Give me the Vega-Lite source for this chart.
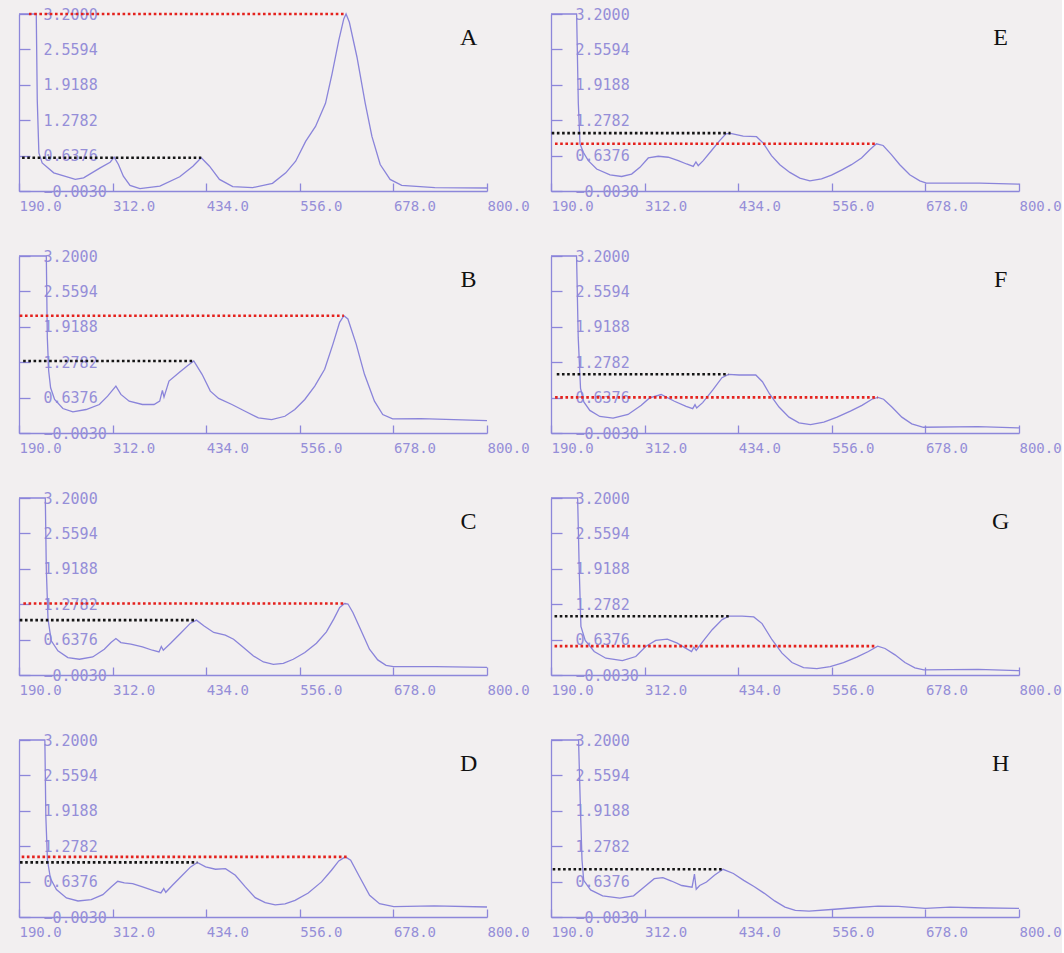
{
  "$schema": "https://vega.github.io/schema/vega-lite/v6.json",
  "background": "#f2eff0",
  "padding": {"left": 16, "top": 6, "right": 0, "bottom": 16},
  "bounds": "flush",
  "columns": 2,
  "spacing": {"row": 65, "column": 64},
  "data": {"values": [
    {"p":"A","k":"s","x":190,"y":3.2},{"p":"A","k":"s","x":212.5,"y":3.2},{"p":"A","k":"s","x":213.8,"y":1.643},{"p":"A","k":"s","x":215.9,"y":0.686},{"p":"A","k":"s","x":220.2,"y":0.506},{"p":"A","k":"s","x":235.3,"y":0.326},{"p":"A","k":"s","x":263.4,"y":0.207},{"p":"A","k":"s","x":274.2,"y":0.236},{"p":"A","k":"s","x":295.8,"y":0.416},{"p":"A","k":"s","x":308.8,"y":0.518},{"p":"A","k":"s","x":314.0,"y":0.61},{"p":"A","k":"s","x":319.6,"y":0.476},{"p":"A","k":"s","x":326.0,"y":0.266},{"p":"A","k":"s","x":334.7,"y":0.099},{"p":"A","k":"s","x":347.6,"y":0.039},{"p":"A","k":"s","x":373.6,"y":0.087},{"p":"A","k":"s","x":399.5,"y":0.254},{"p":"A","k":"s","x":416.7,"y":0.446},{"p":"A","k":"s","x":427.5,"y":0.6},{"p":"A","k":"s","x":438.3,"y":0.446},{"p":"A","k":"s","x":451.3,"y":0.207},{"p":"A","k":"s","x":468.6,"y":0.075},{"p":"A","k":"s","x":494.5,"y":0.057},{"p":"A","k":"s","x":520.4,"y":0.135},{"p":"A","k":"s","x":537.7,"y":0.326},{"p":"A","k":"s","x":550.6,"y":0.536},{"p":"A","k":"s","x":563.6,"y":0.895},{"p":"A","k":"s","x":576.5,"y":1.165},{"p":"A","k":"s","x":589.5,"y":1.584},{"p":"A","k":"s","x":598.1,"y":2.122},{"p":"A","k":"s","x":606.8,"y":2.721},{"p":"A","k":"s","x":613.3,"y":3.11},{"p":"A","k":"s","x":616.3,"y":3.2},{"p":"A","k":"s","x":620.6,"y":3.05},{"p":"A","k":"s","x":630.5,"y":2.422},{"p":"A","k":"s","x":641.3,"y":1.584},{"p":"A","k":"s","x":650.0,"y":0.985},{"p":"A","k":"s","x":660.8,"y":0.476},{"p":"A","k":"s","x":673.7,"y":0.207},{"p":"A","k":"s","x":688.8,"y":0.099},{"p":"A","k":"s","x":732.0,"y":0.057},{"p":"A","k":"s","x":800,"y":0.051},
    {"p":"A","k":"r","c":"red","x":203,"x2":616.3,"y":3.2},{"p":"A","k":"r","c":"black","x":194,"x2":427.5,"y":0.6},{"p":"A","k":"t"},

    {"p":"B","k":"s","x":190,"y":3.2},{"p":"B","k":"s","x":225.6,"y":3.2},{"p":"B","k":"s","x":226.9,"y":1.726},{"p":"B","k":"s","x":228.7,"y":1.119},{"p":"B","k":"s","x":231.2,"y":0.816},{"p":"B","k":"s","x":236.4,"y":0.604},{"p":"B","k":"s","x":247.2,"y":0.44},{"p":"B","k":"s","x":260.2,"y":0.379},{"p":"B","k":"s","x":277.5,"y":0.422},{"p":"B","k":"s","x":294.7,"y":0.513},{"p":"B","k":"s","x":305.5,"y":0.664},{"p":"B","k":"s","x":316.3,"y":0.846},{"p":"B","k":"s","x":322.8,"y":0.695},{"p":"B","k":"s","x":333.6,"y":0.573},{"p":"B","k":"s","x":350.9,"y":0.513},{"p":"B","k":"s","x":366.0,"y":0.513},{"p":"B","k":"s","x":373.4,"y":0.573},{"p":"B","k":"s","x":376.9,"y":0.767},{"p":"B","k":"s","x":379.0,"y":0.646},{"p":"B","k":"s","x":385.5,"y":0.937},{"p":"B","k":"s","x":398.4,"y":1.089},{"p":"B","k":"s","x":409.2,"y":1.21},{"p":"B","k":"s","x":417.8,"y":1.301},{"p":"B","k":"s","x":428.6,"y":1.059},{"p":"B","k":"s","x":439.4,"y":0.755},{"p":"B","k":"s","x":450.2,"y":0.622},{"p":"B","k":"s","x":467.5,"y":0.513},{"p":"B","k":"s","x":484.7,"y":0.391},{"p":"B","k":"s","x":502.0,"y":0.27},{"p":"B","k":"s","x":519.3,"y":0.24},{"p":"B","k":"s","x":536.6,"y":0.3},{"p":"B","k":"s","x":549.5,"y":0.422},{"p":"B","k":"s","x":562.5,"y":0.604},{"p":"B","k":"s","x":575.5,"y":0.846},{"p":"B","k":"s","x":588.4,"y":1.15},{"p":"B","k":"s","x":599.2,"y":1.605},{"p":"B","k":"s","x":607.9,"y":1.999},{"p":"B","k":"s","x":613.5,"y":2.12},{"p":"B","k":"s","x":618.7,"y":2.06},{"p":"B","k":"s","x":629.5,"y":1.605},{"p":"B","k":"s","x":640.3,"y":1.059},{"p":"B","k":"s","x":653.3,"y":0.573},{"p":"B","k":"s","x":664.1,"y":0.331},{"p":"B","k":"s","x":677.0,"y":0.252},{"p":"B","k":"s","x":713.7,"y":0.258},{"p":"B","k":"s","x":756.9,"y":0.24},{"p":"B","k":"s","x":800,"y":0.222},
    {"p":"B","k":"r","c":"red","x":191,"x2":613.5,"y":2.12},{"p":"B","k":"r","c":"black","x":195.4,"x2":417.8,"y":1.301},{"p":"B","k":"t"},

    {"p":"C","k":"s","x":190,"y":3.2},{"p":"C","k":"s","x":224.3,"y":3.2},{"p":"C","k":"s","x":225.6,"y":1.916},{"p":"C","k":"s","x":227.8,"y":1.008},{"p":"C","k":"s","x":232.1,"y":0.615},{"p":"C","k":"s","x":240.7,"y":0.433},{"p":"C","k":"s","x":253.7,"y":0.312},{"p":"C","k":"s","x":268.8,"y":0.282},{"p":"C","k":"s","x":286.1,"y":0.324},{"p":"C","k":"s","x":301.2,"y":0.463},{"p":"C","k":"s","x":309.9,"y":0.584},{"p":"C","k":"s","x":316.3,"y":0.657},{"p":"C","k":"s","x":322.8,"y":0.584},{"p":"C","k":"s","x":335.8,"y":0.554},{"p":"C","k":"s","x":350.9,"y":0.506},{"p":"C","k":"s","x":363.9,"y":0.445},{"p":"C","k":"s","x":372.5,"y":0.415},{"p":"C","k":"s","x":375.5,"y":0.512},{"p":"C","k":"s","x":378.1,"y":0.445},{"p":"C","k":"s","x":387.6,"y":0.572},{"p":"C","k":"s","x":400.6,"y":0.754},{"p":"C","k":"s","x":413.5,"y":0.935},{"p":"C","k":"s","x":421.3,"y":0.99},{"p":"C","k":"s","x":430.8,"y":0.887},{"p":"C","k":"s","x":443.8,"y":0.766},{"p":"C","k":"s","x":458.9,"y":0.717},{"p":"C","k":"s","x":469.7,"y":0.645},{"p":"C","k":"s","x":482.6,"y":0.493},{"p":"C","k":"s","x":495.6,"y":0.342},{"p":"C","k":"s","x":508.6,"y":0.233},{"p":"C","k":"s","x":521.5,"y":0.191},{"p":"C","k":"s","x":534.5,"y":0.209},{"p":"C","k":"s","x":547.5,"y":0.282},{"p":"C","k":"s","x":562.6,"y":0.403},{"p":"C","k":"s","x":577.7,"y":0.572},{"p":"C","k":"s","x":590.7,"y":0.778},{"p":"C","k":"s","x":600.2,"y":1.008},{"p":"C","k":"s","x":608.0,"y":1.22},{"p":"C","k":"s","x":614.4,"y":1.29},{"p":"C","k":"s","x":618.8,"y":1.281},{"p":"C","k":"s","x":625.2,"y":1.129},{"p":"C","k":"s","x":636.0,"y":0.796},{"p":"C","k":"s","x":646.8,"y":0.463},{"p":"C","k":"s","x":657.6,"y":0.27},{"p":"C","k":"s","x":668.4,"y":0.173},{"p":"C","k":"s","x":678.0,"y":0.148},{"p":"C","k":"s","x":733.2,"y":0.148},{"p":"C","k":"s","x":800,"y":0.136},
    {"p":"C","k":"r","c":"red","x":195.7,"x2":616,"y":1.29},{"p":"C","k":"r","c":"black","x":191,"x2":421.3,"y":0.99},{"p":"C","k":"t"},

    {"p":"D","k":"s","x":190,"y":3.2},{"p":"D","k":"s","x":223.7,"y":3.2},{"p":"D","k":"s","x":225.0,"y":1.81},{"p":"D","k":"s","x":227.1,"y":1.025},{"p":"D","k":"s","x":231.0,"y":0.692},{"p":"D","k":"s","x":238.8,"y":0.493},{"p":"D","k":"s","x":251.8,"y":0.342},{"p":"D","k":"s","x":266.9,"y":0.287},{"p":"D","k":"s","x":284.2,"y":0.311},{"p":"D","k":"s","x":299.3,"y":0.402},{"p":"D","k":"s","x":310.1,"y":0.541},{"p":"D","k":"s","x":318.7,"y":0.644},{"p":"D","k":"s","x":327.3,"y":0.614},{"p":"D","k":"s","x":338.1,"y":0.602},{"p":"D","k":"s","x":351.1,"y":0.541},{"p":"D","k":"s","x":366.2,"y":0.469},{"p":"D","k":"s","x":374.9,"y":0.432},{"p":"D","k":"s","x":378.7,"y":0.511},{"p":"D","k":"s","x":381.3,"y":0.444},{"p":"D","k":"s","x":390.0,"y":0.571},{"p":"D","k":"s","x":402.9,"y":0.753},{"p":"D","k":"s","x":413.7,"y":0.904},{"p":"D","k":"s","x":422.4,"y":0.985},{"p":"D","k":"s","x":433.2,"y":0.904},{"p":"D","k":"s","x":446.1,"y":0.861},{"p":"D","k":"s","x":459.1,"y":0.873},{"p":"D","k":"s","x":472.0,"y":0.753},{"p":"D","k":"s","x":485.0,"y":0.541},{"p":"D","k":"s","x":497.9,"y":0.348},{"p":"D","k":"s","x":510.9,"y":0.257},{"p":"D","k":"s","x":523.9,"y":0.215},{"p":"D","k":"s","x":536.8,"y":0.233},{"p":"D","k":"s","x":549.8,"y":0.299},{"p":"D","k":"s","x":567.0,"y":0.432},{"p":"D","k":"s","x":584.3,"y":0.632},{"p":"D","k":"s","x":597.3,"y":0.843},{"p":"D","k":"s","x":606.8,"y":1.012},{"p":"D","k":"s","x":615.4,"y":1.085},{"p":"D","k":"s","x":622.3,"y":1.025},{"p":"D","k":"s","x":634.0,"y":0.722},{"p":"D","k":"s","x":647.0,"y":0.39},{"p":"D","k":"s","x":659.9,"y":0.239},{"p":"D","k":"s","x":678.5,"y":0.185},{"p":"D","k":"s","x":731.2,"y":0.197},{"p":"D","k":"s","x":800,"y":0.178},
    {"p":"D","k":"r","c":"red","x":193.5,"x2":617,"y":1.085},{"p":"D","k":"r","c":"black","x":191.3,"x2":422.4,"y":0.985},{"p":"D","k":"t"},

    {"p":"E","k":"s","x":190,"y":3.2},{"p":"E","k":"s","x":223.4,"y":3.2},{"p":"E","k":"s","x":225.6,"y":1.584},{"p":"E","k":"s","x":227.8,"y":0.852},{"p":"E","k":"s","x":232.1,"y":0.699},{"p":"E","k":"s","x":238.6,"y":0.547},{"p":"E","k":"s","x":249.5,"y":0.394},{"p":"E","k":"s","x":266.9,"y":0.29},{"p":"E","k":"s","x":282.1,"y":0.26},{"p":"E","k":"s","x":295.1,"y":0.303},{"p":"E","k":"s","x":305.9,"y":0.425},{"p":"E","k":"s","x":316.8,"y":0.595},{"p":"E","k":"s","x":329.8,"y":0.626},{"p":"E","k":"s","x":342.8,"y":0.608},{"p":"E","k":"s","x":355.9,"y":0.547},{"p":"E","k":"s","x":366.7,"y":0.486},{"p":"E","k":"s","x":375.4,"y":0.443},{"p":"E","k":"s","x":378.9,"y":0.522},{"p":"E","k":"s","x":381.9,"y":0.455},{"p":"E","k":"s","x":388.4,"y":0.547},{"p":"E","k":"s","x":399.3,"y":0.73},{"p":"E","k":"s","x":410.1,"y":0.913},{"p":"E","k":"s","x":418.0,"y":1.03},{"p":"E","k":"s","x":424.0,"y":1.04},{"p":"E","k":"s","x":440.5,"y":0.99},{"p":"E","k":"s","x":457.9,"y":0.98},{"p":"E","k":"s","x":466.6,"y":0.864},{"p":"E","k":"s","x":477.4,"y":0.638},{"p":"E","k":"s","x":488.3,"y":0.473},{"p":"E","k":"s","x":501.3,"y":0.333},{"p":"E","k":"s","x":514.3,"y":0.229},{"p":"E","k":"s","x":527.4,"y":0.181},{"p":"E","k":"s","x":542.6,"y":0.217},{"p":"E","k":"s","x":555.6,"y":0.284},{"p":"E","k":"s","x":568.6,"y":0.376},{"p":"E","k":"s","x":581.6,"y":0.473},{"p":"E","k":"s","x":594.7,"y":0.595},{"p":"E","k":"s","x":605.5,"y":0.742},{"p":"E","k":"s","x":614.2,"y":0.852},{"p":"E","k":"s","x":622.9,"y":0.821},{"p":"E","k":"s","x":633.7,"y":0.656},{"p":"E","k":"s","x":644.6,"y":0.473},{"p":"E","k":"s","x":657.6,"y":0.29},{"p":"E","k":"s","x":670.7,"y":0.181},{"p":"E","k":"s","x":679.3,"y":0.138},{"p":"E","k":"s","x":748.8,"y":0.138},{"p":"E","k":"s","x":800,"y":0.12},
    {"p":"E","k":"r","c":"red","x":195.2,"x2":614.2,"y":0.852},{"p":"E","k":"r","c":"black","x":190.9,"x2":424,"y":1.045},{"p":"E","k":"t"},

    {"p":"F","k":"s","x":190,"y":3.2},{"p":"F","k":"s","x":223.3,"y":3.2},{"p":"F","k":"s","x":225.5,"y":1.718},{"p":"F","k":"s","x":228.5,"y":0.803},{"p":"F","k":"s","x":232.8,"y":0.559},{"p":"F","k":"s","x":240.6,"y":0.406},{"p":"F","k":"s","x":253.6,"y":0.296},{"p":"F","k":"s","x":270.9,"y":0.266},{"p":"F","k":"s","x":290.4,"y":0.333},{"p":"F","k":"s","x":307.7,"y":0.498},{"p":"F","k":"s","x":318.5,"y":0.632},{"p":"F","k":"s","x":333.6,"y":0.693},{"p":"F","k":"s","x":350.9,"y":0.571},{"p":"F","k":"s","x":366.1,"y":0.479},{"p":"F","k":"s","x":374.7,"y":0.437},{"p":"F","k":"s","x":377.7,"y":0.51},{"p":"F","k":"s","x":379.9,"y":0.449},{"p":"F","k":"s","x":387.7,"y":0.547},{"p":"F","k":"s","x":400.7,"y":0.772},{"p":"F","k":"s","x":412.8,"y":0.998},{"p":"F","k":"s","x":421.4,"y":1.059},{"p":"F","k":"s","x":435.3,"y":1.047},{"p":"F","k":"s","x":456.9,"y":1.047},{"p":"F","k":"s","x":465.6,"y":0.925},{"p":"F","k":"s","x":475.1,"y":0.699},{"p":"F","k":"s","x":487.2,"y":0.467},{"p":"F","k":"s","x":500.2,"y":0.284},{"p":"F","k":"s","x":513.2,"y":0.181},{"p":"F","k":"s","x":528.3,"y":0.15},{"p":"F","k":"s","x":545.6,"y":0.193},{"p":"F","k":"s","x":562.9,"y":0.284},{"p":"F","k":"s","x":580.2,"y":0.394},{"p":"F","k":"s","x":595.3,"y":0.498},{"p":"F","k":"s","x":608.3,"y":0.608},{"p":"F","k":"s","x":616.1,"y":0.641},{"p":"F","k":"s","x":623.5,"y":0.608},{"p":"F","k":"s","x":634.3,"y":0.467},{"p":"F","k":"s","x":647.3,"y":0.284},{"p":"F","k":"s","x":660.2,"y":0.162},{"p":"F","k":"s","x":675.4,"y":0.101},{"p":"F","k":"s","x":746.7,"y":0.113},{"p":"F","k":"s","x":800,"y":0.089},
    {"p":"F","k":"r","c":"red","x":195.3,"x2":616.1,"y":0.641},{"p":"F","k":"r","c":"black","x":197.5,"x2":421.4,"y":1.059},{"p":"F","k":"t"},

    {"p":"G","k":"s","x":190,"y":3.2},{"p":"G","k":"s","x":224.7,"y":3.2},{"p":"G","k":"s","x":226.8,"y":1.911},{"p":"G","k":"s","x":229.0,"y":0.878},{"p":"G","k":"s","x":234.6,"y":0.623},{"p":"G","k":"s","x":246.3,"y":0.422},{"p":"G","k":"s","x":261.5,"y":0.301},{"p":"G","k":"s","x":283.1,"y":0.258},{"p":"G","k":"s","x":300.5,"y":0.331},{"p":"G","k":"s","x":313.5,"y":0.514},{"p":"G","k":"s","x":326.5,"y":0.623},{"p":"G","k":"s","x":341.6,"y":0.647},{"p":"G","k":"s","x":354.6,"y":0.574},{"p":"G","k":"s","x":365.4,"y":0.483},{"p":"G","k":"s","x":373.2,"y":0.422},{"p":"G","k":"s","x":376.3,"y":0.501},{"p":"G","k":"s","x":379.3,"y":0.441},{"p":"G","k":"s","x":388.0,"y":0.605},{"p":"G","k":"s","x":400.1,"y":0.817},{"p":"G","k":"s","x":413.1,"y":0.999},{"p":"G","k":"s","x":421.8,"y":1.061},{"p":"G","k":"s","x":439.1,"y":1.061},{"p":"G","k":"s","x":454.3,"y":1.048},{"p":"G","k":"s","x":465.1,"y":0.927},{"p":"G","k":"s","x":478.1,"y":0.635},{"p":"G","k":"s","x":491.1,"y":0.392},{"p":"G","k":"s","x":504.1,"y":0.222},{"p":"G","k":"s","x":519.2,"y":0.131},{"p":"G","k":"s","x":536.6,"y":0.112},{"p":"G","k":"s","x":553.9,"y":0.149},{"p":"G","k":"s","x":571.2,"y":0.222},{"p":"G","k":"s","x":588.5,"y":0.319},{"p":"G","k":"s","x":603.7,"y":0.422},{"p":"G","k":"s","x":615.8,"y":0.52},{"p":"G","k":"s","x":625.4,"y":0.477},{"p":"G","k":"s","x":638.4,"y":0.362},{"p":"G","k":"s","x":651.3,"y":0.222},{"p":"G","k":"s","x":664.3,"y":0.125},{"p":"G","k":"s","x":676.0,"y":0.088},{"p":"G","k":"s","x":746.7,"y":0.1},{"p":"G","k":"s","x":800,"y":0.076},
    {"p":"G","k":"r","c":"red","x":194.6,"x2":613.6,"y":0.52},{"p":"G","k":"r","c":"black","x":194.6,"x2":421.8,"y":1.061},{"p":"G","k":"t"},

    {"p":"H","k":"s","x":190,"y":3.2},{"p":"H","k":"s","x":225.9,"y":3.2},{"p":"H","k":"s","x":228.1,"y":2.085},{"p":"H","k":"s","x":230.4,"y":1.032},{"p":"H","k":"s","x":232.6,"y":0.66},{"p":"H","k":"s","x":241.6,"y":0.487},{"p":"H","k":"s","x":257.3,"y":0.381},{"p":"H","k":"s","x":279.7,"y":0.338},{"p":"H","k":"s","x":297.6,"y":0.381},{"p":"H","k":"s","x":311.1,"y":0.536},{"p":"H","k":"s","x":324.6,"y":0.691},{"p":"H","k":"s","x":335.8,"y":0.71},{"p":"H","k":"s","x":347.0,"y":0.648},{"p":"H","k":"s","x":360.4,"y":0.567},{"p":"H","k":"s","x":373.9,"y":0.536},{"p":"H","k":"s","x":377.0,"y":0.772},{"p":"H","k":"s","x":379.3,"y":0.499},{"p":"H","k":"s","x":383.8,"y":0.567},{"p":"H","k":"s","x":392.7,"y":0.629},{"p":"H","k":"s","x":403.0,"y":0.753},{"p":"H","k":"s","x":414.3,"y":0.86},{"p":"H","k":"s","x":427.7,"y":0.784},{"p":"H","k":"s","x":441.2,"y":0.66},{"p":"H","k":"s","x":454.6,"y":0.549},{"p":"H","k":"s","x":468.1,"y":0.425},{"p":"H","k":"s","x":481.5,"y":0.288},{"p":"H","k":"s","x":495.0,"y":0.177},{"p":"H","k":"s","x":508.4,"y":0.115},{"p":"H","k":"s","x":526.4,"y":0.103},{"p":"H","k":"s","x":555.5,"y":0.133},{"p":"H","k":"s","x":584.7,"y":0.164},{"p":"H","k":"s","x":616.1,"y":0.195},{"p":"H","k":"s","x":642.9,"y":0.189},{"p":"H","k":"s","x":678.0,"y":0.152},{"p":"H","k":"s","x":710.3,"y":0.177},{"p":"H","k":"s","x":741.7,"y":0.164},{"p":"H","k":"s","x":800,"y":0.152},
    {"p":"H","k":"r","c":"black","x":192.2,"x2":414.3,"y":0.86},{"p":"H","k":"t"}
  ]},
  "facet": {"field": "p", "type": "nominal", "sort": ["A","E","B","F","C","G","D","H"], "header": {"title": null, "labels": false, "labelExpr": "''", "labelPadding": 0, "labelFontSize": 1}},
  "spec": {
    "width": 468,
    "height": 177,
    "layer": [
      {
        "transform": [{"filter": "datum.k === 's'"}],
        "mark": {"type": "line", "color": "#8a84da", "strokeWidth": 1.3},
        "encoding": {
          "x": {"field": "x", "type": "quantitative", "scale": {"domain": [190, 800], "nice": false, "zero": false},
                "axis": {"values": [190, 312, 434, 556, 678, 800], "tickCount": 20, "format": ".1f", "tickSize": -8, "labelPadding": 16, "labelAlign": "left", "labelBaseline": "top", "labelFontSize": 14, "labelOverlap": false, "labelFlush": false}},
          "y": {"field": "y", "type": "quantitative", "scale": {"domain": [-0.003, 3.2], "nice": false, "zero": false},
                "axis": {"values": [-0.003, 0.6376, 1.2782, 1.9188, 2.5594, 3.2], "tickCount": 20, "format": ".4f", "tickSize": -11, "labelPadding": -13, "labelAlign": "left", "labelBaseline": "middle", "labelOverlap": false, "labelFlush": false}}
        }
      },
      {
        "transform": [{"filter": "datum.k === 'r'"}],
        "mark": {"type": "rule", "strokeWidth": 2.6, "strokeDash": [2.6, 2.6], "strokeCap": "butt"},
        "encoding": {
          "x": {"field": "x", "type": "quantitative"},
          "x2": {"field": "x2"},
          "y": {"field": "y", "type": "quantitative"},
          "color": {"field": "c", "type": "nominal", "scale": {"domain": ["red", "black"], "range": ["#e4211c", "#141414"]}, "legend": null}
        }
      },
      {
        "transform": [{"filter": "datum.k === 't'"}],
        "mark": {"type": "text", "font": "Liberation Serif", "fontSize": 24, "color": "#111111", "align": "center", "baseline": "middle"},
        "encoding": {
          "x": {"datum": 776, "type": "quantitative"},
          "y": {"datum": 2.77, "type": "quantitative"},
          "text": {"field": "p", "type": "nominal"}
        }
      }
    ]
  },
  "resolve": {"axis": {"x": "independent", "y": "independent"}},
  "config": {
    "view": {"stroke": null},
    "header": {"labels": false, "title": null, "labelExpr": "''", "labelPadding": 0, "labelFontSize": 1},
    "headerFacet": {"labels": false, "title": null, "labelExpr": "''", "labelPadding": 0, "labelFontSize": 1},
    "axis": {"title": null, "grid": false, "domainColor": "#8d87da", "tickColor": "#8d87da", "domainWidth": 1.3, "tickWidth": 1.3,
             "labelColor": "#958ed8", "labelFont": "DejaVu Sans Mono", "labelFontSize": 15, "labelFlush": false, "labelOverlap": false, "labelBound": false}
  }
}
